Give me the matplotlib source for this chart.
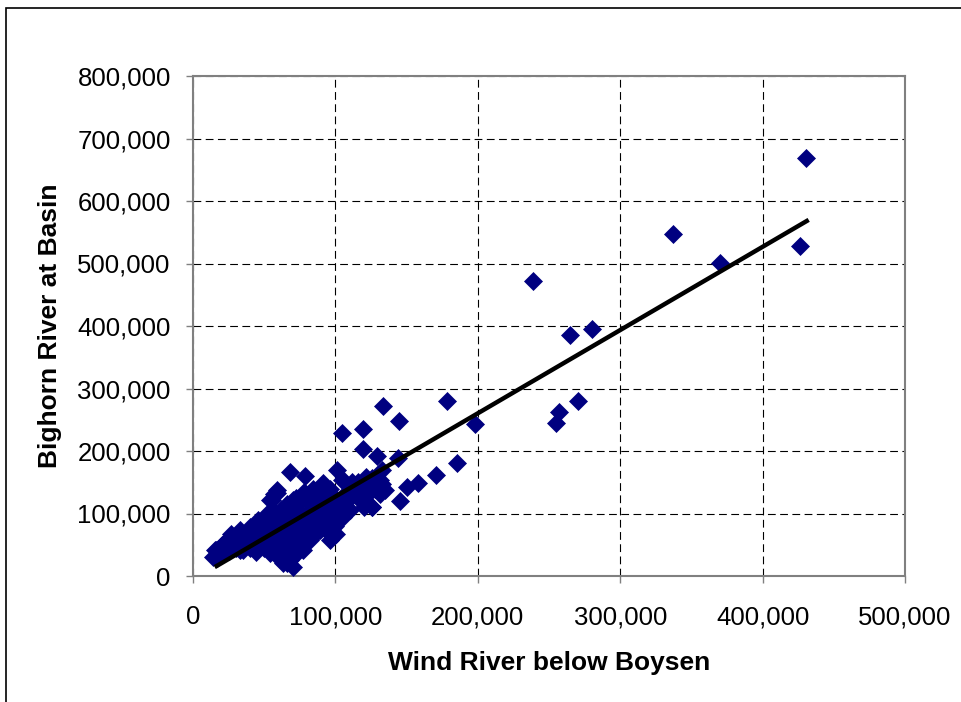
import numpy as np
import matplotlib
matplotlib.use("Agg")
import matplotlib.pyplot as plt
from matplotlib.ticker import FuncFormatter, MultipleLocator
from matplotlib.patches import Rectangle

# annual flows (acre-feet)
wind = [
    430500, 426000, 370000, 337000, 238700, 280000, 264700, 270300, 257000, 255000,
    198000, 178100, 185100, 170600, 158200, 150000, 145300, 144200, 144400, 133200,
    119100, 119100, 104400, 129000, 125500, 133000, 131000, 135000, 126000, 123000,
    117000, 105000, 110000, 105000, 107000, 112000, 121500, 131000, 126000, 133000,
    68100, 78600, 100900, 91500, 104400, 111400, 103200, 58800, 68100, 63400,
    82200, 89200, 96200, 77500,
    16600, 15400, 20200, 26000, 33000, 28300, 35300, 41200, 42400, 49400,
    51800, 56400, 58800, 55300, 65800, 70400, 54100, 61100, 65800, 58800, 70000,
    96000, 84000, 61000, 54000, 44000, 33000, 23000, 14000,
    100500, 98000, 93000, 103000, 107500, 57000, 54000, 45600, 40000, 27000,
    21000, 16400,
    45000, 50000, 55000, 60000, 65000, 70000, 75000, 80000, 85000, 90000,
    95000, 100000, 60000, 65000, 70000, 75000, 80000, 85000, 90000, 95000,
    100000, 70000, 75000, 80000, 60000, 65000, 70000, 75000, 80000, 85000,
    90000, 55000, 50000, 40000, 35000, 30000, 25000, 20000, 105000, 110000,
    115000, 120000, 125000, 110000, 120000, 95000, 100000, 105000,
    30000, 35000, 40000, 45000, 50000, 55000, 60000, 65000, 70000, 75000,
    80000, 85000, 90000, 95000, 100000, 105000, 62000, 68000, 72000, 78000,
    82000, 88000, 92000, 98000, 102000, 66000, 72000, 76000, 58000, 62000,
    66000, 72000, 78000, 84000, 88000, 92000, 96000, 52000, 48000, 42000,
    38000, 58000, 62000, 68000, 74000, 82000, 86000, 90000, 108000, 114000,
    118000, 122000, 128000, 116000, 112000,
]
bighorn = [
    668800, 528000, 500800, 547000, 472000, 395000, 385600, 280000, 262400, 244800,
    243000, 280500, 180300, 161600, 149300, 142900, 120500, 188300, 248500, 272500,
    235200, 202700, 228300, 192000, 109900, 170000, 154000, 138000, 157000, 138000,
    146000, 154000, 142000, 117000, 109000, 141000, 159000, 132000, 111000, 148000,
    166000, 160000, 169600, 148300, 153600, 142900, 102900, 137600, 25600, 20800,
    57600, 73600, 84800, 41600,
    28300, 41600, 49600, 60300, 73600, 46900, 41600, 46900, 65600, 78900,
    92300, 105600, 132300, 121600, 108300, 121600, 41600, 36300, 20300, 52300, 14000,
    57600, 69000, 28000, 37000, 39000, 41600, 47000, 31000,
    68000, 79000, 90000, 105600, 111000, 132000, 121600, 89600, 79000, 68000,
    52000, 41600,
    60000, 55000, 65000, 70000, 80000, 90000, 95000, 100000, 110000, 115000,
    120000, 125000, 50000, 55000, 60000, 65000, 75000, 80000, 90000, 100000,
    110000, 40000, 50000, 60000, 90000, 100000, 110000, 120000, 125000, 130000,
    135000, 80000, 70000, 55000, 50000, 55000, 40000, 35000, 115000, 125000,
    130000, 140000, 150000, 105000, 110000, 70000, 80000, 95000,
    45000, 60000, 45000, 50000, 45000, 50000, 60000, 65000, 70000, 75000,
    85000, 90000, 100000, 105000, 100000, 105000, 45000, 48000, 55000, 58000,
    68000, 72000, 80000, 88000, 92000, 30000, 35000, 45000, 95000, 105000,
    115000, 125000, 135000, 140000, 125000, 130000, 140000, 100000, 85000, 70000,
    65000, 75000, 85000, 95000, 105000, 115000, 105000, 110000, 135000, 140000,
    120000, 130000, 140000, 150000, 150000,
]
trend_x = [16600, 431000]
trend_y = [16000, 568000]

x_label = "Wind River below Boysen"
y_label = "Bighorn River at Basin"

plt.rcParams["font.family"] = ["Liberation Sans", "DejaVu Sans"]

fig = plt.figure(figsize=(9.61, 7.02), dpi=100)
ax = fig.add_axes([193 / 961, 1 - 576 / 702, 712 / 961, 500 / 702])

# outer chart-area border (only top and left visible in the crop)
fig.add_artist(Rectangle((6 / 961, -0.1), 1.2, 1 - 8 / 702 + 0.1,
                         transform=fig.transFigure, fill=False,
                         edgecolor="black", lw=1.2))

ax.set_axisbelow(True)
ax.grid(True, color="black", ls=(0, (7, 4)), lw=0.8)
ax.plot(wind, bighorn, ls="none", marker="D", ms=8.8, color="#000080",
        mec="#000080", mew=0.5, zorder=3)
ax.plot(trend_x, trend_y, color="black", lw=3.2, zorder=4)

ax.set_xlim(0, 500000)
ax.set_ylim(0, 800000)
ax.xaxis.set_major_locator(MultipleLocator(100000))
ax.yaxis.set_major_locator(MultipleLocator(100000))
fmt = FuncFormatter(lambda v, p: f"{int(v):,}")
ax.xaxis.set_major_formatter(fmt)
ax.yaxis.set_major_formatter(fmt)
ax.tick_params(labelsize=18.5, length=5, width=1, color="#808080")
ax.tick_params(axis="x", pad=16)
ax.tick_params(axis="y", pad=11)

for sp in ax.spines.values():
    sp.set_color("#808080")
    sp.set_linewidth(1.5)

ax.set_xlabel(x_label, fontsize=19, fontweight="bold", labelpad=16)
ax.set_ylabel(y_label, fontsize=19, fontweight="bold", labelpad=11)

fig.savefig("out.png", dpi=100)
